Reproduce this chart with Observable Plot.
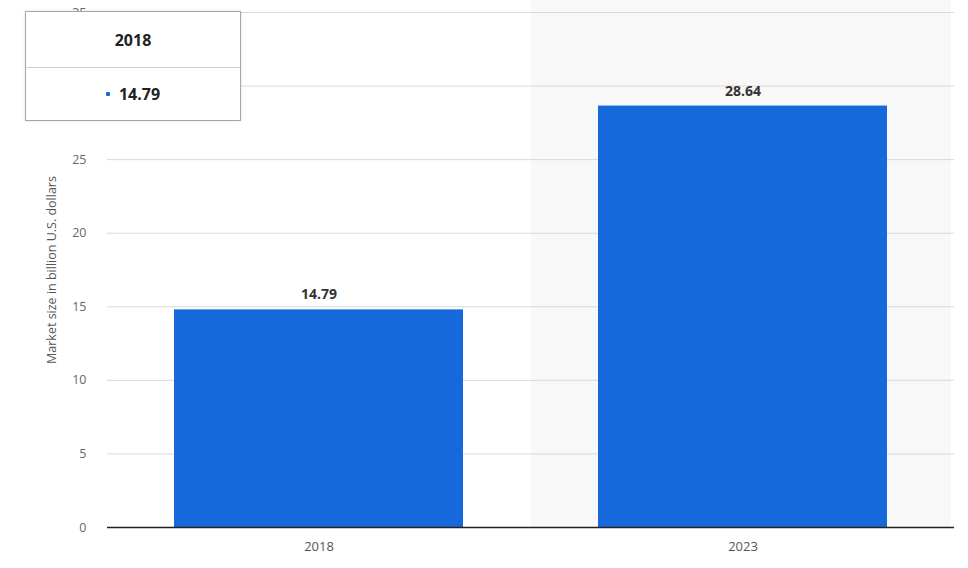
<!DOCTYPE html>
<html>
<head>
<meta charset="utf-8">
<script src="https://cdn.jsdelivr.net/npm/d3@7"></script>
<script src="https://cdn.jsdelivr.net/npm/@observablehq/plot@0.6"></script>
<style>
  html, body { margin: 0; padding: 0; background: #fff; }
  #wrap { position: relative; width: 968px; height: 568px; font-family: "Open Sans", "DejaVu Sans", sans-serif; }
  #tip { position: absolute; left: 25px; top: 11px; width: 214px; height: 108px; background: #fff;
         border: 1px solid #a8a8a8; box-shadow: 0 0 3px rgba(0,0,0,0.12); }
  #tip .head { height: 55px; border-bottom: 1px solid #cfcfcf; display: flex; align-items: center; justify-content: center;
               font-weight: bold; font-size: 16px; color: #222; }
  #tip .body { height: 52px; display: flex; align-items: center; justify-content: center; font-weight: bold; font-size: 16px; color: #222; }
  #tip .dot { display: inline-block; width: 4px; height: 4px; border-radius: 1px; background: #1668db; margin-right: 9px; }
</style>
</head>
<body>
<div id="wrap"></div>
<script>
const years = ["2018", "2023"];
const values = [14.79, 28.64];
const yTicks = [0, 5, 10, 15, 20, 25, 30, 35];
const yLabel = "Market size in billion U.S. dollars";
const tipYear = "2018";
const tipValue = "14.79";
const highlightYear = "2023";

const data = years.map((y, i) => ({year: y, value: values[i]}));
const barColor = "#1668db";

const chart = Plot.plot({
  width: 968,
  height: 568,
  marginTop: 12,
  marginBottom: 41,
  marginLeft: 107,
  marginRight: 14,
  style: {fontFamily: "'Open Sans', 'DejaVu Sans', sans-serif", background: "transparent"},
  x: {domain: years, paddingInner: 0.318, paddingOuter: 0.1555, label: null},
  y: {domain: [0, 35], ticks: yTicks, label: null},
  marks: [
    Plot.barY([{year: highlightYear}], {x: "year", y1: 0, y2: 35, fill: "#f8f8f8",
      insetLeft: -67, insetRight: -64, insetTop: -12}),
    Plot.gridY(yTicks, {stroke: "#d9d9d9", strokeOpacity: 1, strokeWidth: 1}),
    Plot.axisY(yTicks, {tickSize: 0, tickPadding: 21, fontSize: 12.5, fill: "#666",
      label: yLabel, labelAnchor: "center", labelArrow: "none", labelOffset: 60}),
    Plot.axisX({tickSize: 0, tickPadding: 14, fontSize: 13, fill: "#555", label: null}),
    Plot.barY(data, {x: "year", y: "value", fill: barColor}),
    Plot.ruleY([0], {stroke: "#222", strokeWidth: 1.5}),
    Plot.text(data, {x: "year", y: "value", text: d => d.value.toFixed(2), dy: -15,
      fontWeight: "bold", fontSize: 14, fill: "#333"})
  ]
});

const wrap = document.getElementById("wrap");
wrap.appendChild(chart);
chart.querySelectorAll("text").forEach(t => {
  if (t.textContent === yLabel) { t.setAttribute("font-size", "12.5"); t.setAttribute("fill", "#555"); }
});

const tip = document.createElement("div");
tip.id = "tip";
tip.innerHTML = `<div class="head">${tipYear}</div><div class="body"><span class="dot"></span>${tipValue}</div>`;
wrap.appendChild(tip);
</script>
</body>
</html>
